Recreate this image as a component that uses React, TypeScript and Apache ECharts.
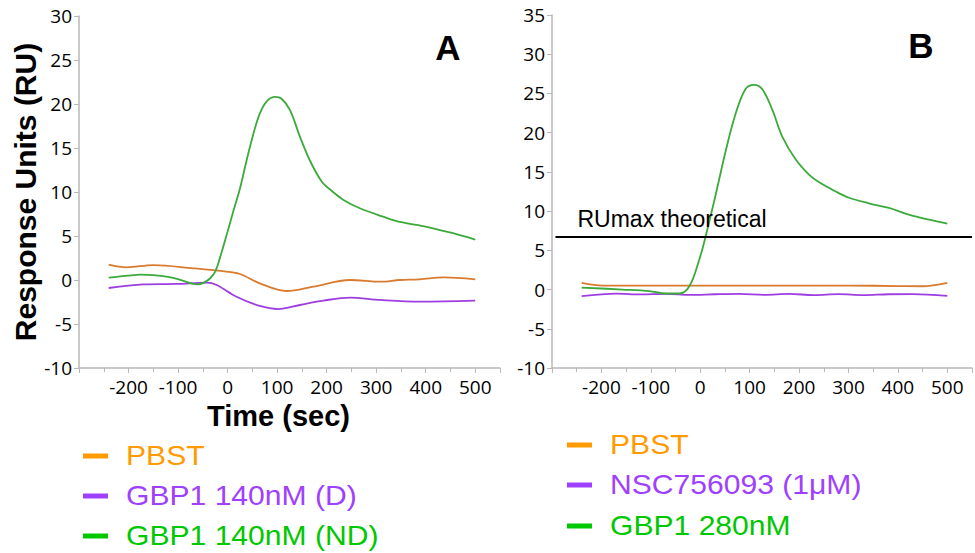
import React, { useEffect, useRef } from "react";
import * as echarts from "echarts";

// ---------- Panel A data ----------
const aGreenT = [-240, -200, -175, -150, -120, -100, -70, -60, -48, -35, -25, -15, -2, 11, 25, 38, 52, 65, 79, 96, 109, 126, 146, 166, 190, 213, 234, 267, 314, 348, 402, 449, 500];
const aGreenV = [0.26, 0.5, 0.6, 0.55, 0.35, 0.1, -0.45, -0.5, -0.3, 0.2, 0.95, 2.6, 5.1, 7.7, 10.4, 13.5, 16.6, 18.9, 20.3, 20.8, 20.6, 19.3, 16.3, 13.6, 11.2, 10.0, 9.1, 8.15, 7.2, 6.6, 6.05, 5.4, 4.6];
const aOrangeT = [-240, -204, -150, -69, -2, 25, 65, 119, 173, 247, 308, 348, 388, 436, 500];
const aOrangeV = [1.74, 1.44, 1.7, 1.33, 0.95, 0.68, -0.38, -1.25, -0.76, 0, -0.19, 0, 0.08, 0.3, 0.08];
const aPurpleT = [-240, -170, -103, -42, -22, 18, 65, 102, 146, 193, 247, 308, 388, 500];
const aPurpleV = [-0.91, -0.5, -0.45, -0.3, -0.57, -1.9, -2.95, -3.3, -2.84, -2.35, -2.0, -2.27, -2.46, -2.35];

// ---------- Panel B data ----------
const bGreenT = [-240, -157, -103, -69, -42, -22, -2, 11, 32, 52, 72, 92, 109, 126, 146, 166, 193, 220, 240, 274, 301, 341, 382, 422, 463, 500];
const bGreenV = [0.25, 0, -0.2, -0.5, -0.5, 0.42, 3.8, 6.8, 12.3, 17.8, 22.5, 25.6, 26.1, 25.5, 22.9, 19.5, 16.6, 14.65, 13.7, 12.5, 11.7, 11.0, 10.4, 9.55, 8.9, 8.4];
const bOrangeT = [-240, -197, -100, 0, 100, 200, 300, 400, 449, 500];
const bOrangeV = [0.85, 0.5, 0.5, 0.5, 0.5, 0.5, 0.5, 0.45, 0.42, 0.85];
const bPurpleT = [-240, -170, -120, -70, -20, 30, 80, 130, 180, 230, 280, 330, 380, 430, 500];
const bPurpleV = [-0.85, -0.52, -0.62, -0.55, -0.68, -0.6, -0.55, -0.68, -0.56, -0.7, -0.58, -0.7, -0.6, -0.58, -0.8];

const ruMax = 6.7;
const ruMaxStart = -293;
const ruMaxLabel = "RUmax theoretical";

const legendA = ["PBST", "GBP1 140nM (D)", "GBP1 140nM (ND)"];
const legendB = ["PBST", "NSC756093 (1\u03bcM)", "GBP1 280nM"];
const legendColors = ["#FF9A00", "#A040FF", "#00C800"];
const lineColors = { orange: "#D97B2E", purple: "#9E3EE0", green: "#3BAA3B" };

const xMin = -300;
const xMax = 550;

const zip = (t: number[], v: number[]) => t.map((x, i) => [x, v[i]]);

const numFont = "Open Sans";
const axisGrey = "#B8B8B8";

function xAxisCfg(gridIndex: number, withName: boolean) {
  return {
    type: "value",
    gridIndex,
    min: xMin,
    max: xMax,
    interval: 100,
    axisLine: { show: true, onZero: false, lineStyle: { color: axisGrey, width: 1.5 } },
    axisTick: { show: true, length: 5, lineStyle: { color: axisGrey } },
    minorTick: { show: true, splitNumber: 2, length: 4, lineStyle: { color: axisGrey } },
    splitLine: { show: false },
    axisLabel: {
      fontFamily: numFont,
      fontSize: 19,
      color: "#000",
      margin: 9,
      formatter: (v: number) => (v < -200 || v > 500 ? "" : String(v)),
    },
    ...(withName
      ? {
          name: "Time (sec)",
          nameLocation: "middle",
          nameGap: 33,
          nameTextStyle: {
            fontFamily: "Liberation Sans",
            fontWeight: "bold",
            fontSize: 29,
            color: "#000",
            padding: [0, 22, 0, 0],
          },
        }
      : {}),
  };
}

function yAxisCfg(gridIndex: number, max: number, withName: boolean) {
  return {
    type: "value",
    gridIndex,
    min: -10,
    max,
    interval: 5,
    axisLine: { show: true, onZero: false, lineStyle: { color: axisGrey, width: 1.5 } },
    axisTick: { show: true, length: 5, lineStyle: { color: axisGrey } },
    splitLine: { show: false },
    axisLabel: { fontFamily: numFont, fontSize: 19, color: "#000", margin: 7 },
    ...(withName
      ? {
          name: "Response Units (RU)",
          nameLocation: "middle",
          nameGap: 38,
          nameTextStyle: {
            fontFamily: "Liberation Sans",
            fontWeight: "bold",
            fontSize: 30,
            color: "#000",
          },
        }
      : {}),
  };
}

function lineSeries(name: string, data: number[][], color: string, idx: number, extra: any = {}) {
  return {
    type: "line",
    name,
    xAxisIndex: idx,
    yAxisIndex: idx,
    data,
    smooth: 0.35,
    showSymbol: false,
    symbol: "none",
    lineStyle: { color, width: 1.8 },
    itemStyle: { color },
    ...extra,
  };
}

function legendGraphics(names: string[], markerX: number, textX: number, ys: number[]) {
  const els: any[] = [];
  names.forEach((n, i) => {
    els.push({
      type: "rect",
      shape: { x: markerX, y: ys[i] - 2.5, width: 25, height: 5 },
      style: { fill: legendColors[i] },
    });
    els.push({
      type: "text",
      x: textX,
      y: ys[i],
      scaleX: 1.115,
      style: {
        text: n,
        fill: legendColors[i],
        font: "27px 'Liberation Sans'",
        verticalAlign: "middle",
        align: "left",
      },
    });
  });
  return els;
}

export default function App() {
  const ref = useRef<HTMLDivElement>(null);
  useEffect(() => {
    if (!ref.current) return;
    const chart = echarts.init(ref.current, undefined, { renderer: "svg" });
    chart.setOption({
      animation: false,
      backgroundColor: "#fff",
      grid: [
        { left: 79, top: 16, width: 421, height: 352 },
        { left: 552, top: 15, width: 421, height: 353 },
      ],
      xAxis: [xAxisCfg(0, true), xAxisCfg(1, false)],
      yAxis: [yAxisCfg(0, 30, true), yAxisCfg(1, 35, false)],
      series: [
        lineSeries("A PBST", zip(aOrangeT, aOrangeV), lineColors.orange, 0),
        lineSeries("A GBP1 140nM (D)", zip(aPurpleT, aPurpleV), lineColors.purple, 0),
        lineSeries("A GBP1 140nM (ND)", zip(aGreenT, aGreenV), lineColors.green, 0),
        lineSeries("B PBST", zip(bOrangeT, bOrangeV), lineColors.orange, 1),
        lineSeries("B NSC756093", zip(bPurpleT, bPurpleV), lineColors.purple, 1),
        lineSeries("B GBP1 280nM", zip(bGreenT, bGreenV), lineColors.green, 1, {
          markLine: {
            silent: true,
            symbol: "none",
            lineStyle: { color: "#000", width: 2, type: "solid" },
            label: {
              show: true,
              position: "insideStartTop",
              formatter: ruMaxLabel,
              fontFamily: "Liberation Sans",
              fontSize: 23,
              color: "#000",
              distance: [22, 6],
            },
            data: [[{ coord: [ruMaxStart, ruMax] }, { coord: [xMax, ruMax] }]],
          },
        }),
      ],
      graphic: [
        {
          type: "text",
          x: 448,
          y: 47,
          style: { text: "A", font: "bold 35px 'Liberation Sans'", fill: "#000", align: "center", verticalAlign: "middle" },
        },
        {
          type: "text",
          x: 921,
          y: 45,
          style: { text: "B", font: "bold 35px 'Liberation Sans'", fill: "#000", align: "center", verticalAlign: "middle" },
        },
        ...legendGraphics(legendA, 83, 126, [456, 496, 536]),
        ...legendGraphics(legendB, 567, 610, [445, 485, 526]),
      ],
    });
    return () => chart.dispose();
  }, []);
  return (
    <div
      ref={ref}
      style={{ position: "fixed", left: 0, top: 0, width: 975, height: 553 }}
    />
  );
}
